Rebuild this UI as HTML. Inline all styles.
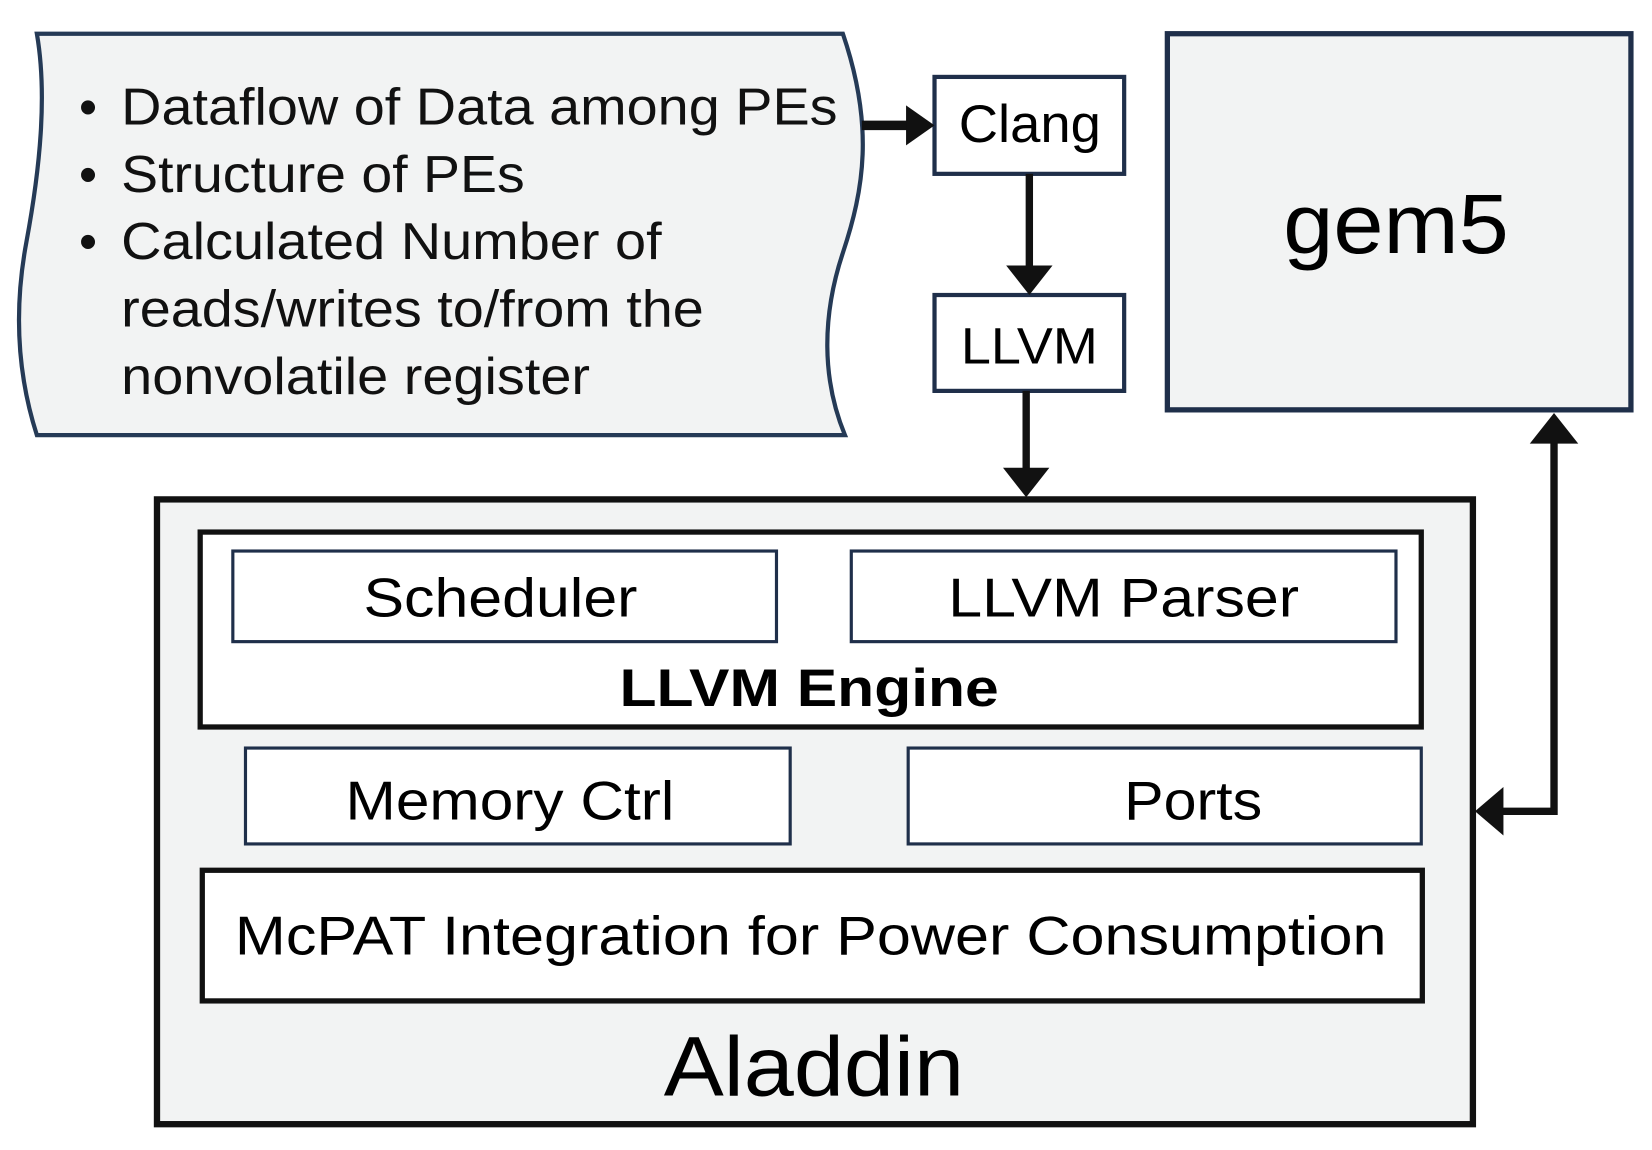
<!DOCTYPE html>
<html><head><style>html,body{margin:0;padding:0;background:#fff}svg{display:block}</style></head>
<body>
<svg width="1652" height="1150" viewBox="0 0 1568 1091.5" preserveAspectRatio="none" xmlns="http://www.w3.org/2000/svg" font-family="Liberation Sans, Arial, sans-serif">
<path d="M35,32 L800,32 C830,120 820,180 800,240 C780,300 780,360 802,413 L35,413 C18,360 12,300 25,230 C38,160 45,90 35,32 Z" fill="#f2f3f3" stroke="#253a56" stroke-width="4"/>
<g font-size="49" fill="#111" lengthAdjust="spacingAndGlyphs">
<text x="75" y="118">•</text><text x="115" y="118" textLength="680" lengthAdjust="spacingAndGlyphs">Dataflow of Data among PEs</text>
<text x="75" y="182">•</text><text x="115" y="182" textLength="383" lengthAdjust="spacingAndGlyphs">Structure of PEs</text>
<text x="75" y="246">•</text><text x="115" y="246" textLength="513" lengthAdjust="spacingAndGlyphs">Calculated Number of</text>
<text x="115" y="310" textLength="553" lengthAdjust="spacingAndGlyphs">reads/writes to/from the</text>
<text x="115" y="374" textLength="445" lengthAdjust="spacingAndGlyphs">nonvolatile register</text>
</g>
<rect x="887" y="73" width="180" height="92" fill="#fff" stroke="#1f2f4a" stroke-width="4"/>
<text x="910" y="135" font-size="50" textLength="135" lengthAdjust="spacingAndGlyphs">Clang</text>
<rect x="887" y="280" width="180" height="91" fill="#fff" stroke="#1f2f4a" stroke-width="4"/>
<text x="912" y="345" font-size="48" textLength="130" lengthAdjust="spacingAndGlyphs">LLVM</text>
<rect x="1108" y="32" width="440" height="357" fill="#f2f3f3" stroke="#1f2f4a" stroke-width="5"/>
<text x="1218" y="240" font-size="80" textLength="214" lengthAdjust="spacingAndGlyphs">gem5</text>
<g stroke="#111" stroke-width="7" fill="none">
<line x1="818" y1="119" x2="862" y2="119" stroke-width="9"/>
<line x1="977" y1="165" x2="977" y2="255"/>
<line x1="974" y1="371" x2="974" y2="448"/>
<polyline points="1475,420 1475,770 1425,770"/>
</g>
<g fill="#111">
<polygon points="860,100 887,119 860,138"/>
<polygon points="955,252 999,252 977,280"/>
<polygon points="952,444 996,444 974,472"/>
<polygon points="1452,421 1498,421 1475,392"/>
<polygon points="1427,747 1427,793 1400,770"/>
</g>
<rect x="149" y="474" width="1249" height="593" fill="#f2f3f3" stroke="#111" stroke-width="6"/>
<rect x="190" y="505" width="1159" height="185" fill="#fff" stroke="#111" stroke-width="5"/>
<rect x="221" y="523" width="516" height="86" fill="#fff" stroke="#1f2f4a" stroke-width="3"/>
<text x="345" y="585" font-size="52" textLength="260" lengthAdjust="spacingAndGlyphs">Scheduler</text>
<rect x="808" y="523" width="517" height="86" fill="#fff" stroke="#1f2f4a" stroke-width="3"/>
<text x="900" y="585" font-size="52" textLength="333" lengthAdjust="spacingAndGlyphs">LLVM Parser</text>
<text x="588" y="670" font-size="50" font-weight="bold" textLength="360" lengthAdjust="spacingAndGlyphs">LLVM Engine</text>
<rect x="233" y="710" width="517" height="91" fill="#fff" stroke="#1f2f4a" stroke-width="3"/>
<text x="328" y="778" font-size="52" textLength="312" lengthAdjust="spacingAndGlyphs">Memory Ctrl</text>
<rect x="862" y="710" width="487" height="91" fill="#fff" stroke="#1f2f4a" stroke-width="3"/>
<text x="1067" y="778" font-size="52" textLength="131" lengthAdjust="spacingAndGlyphs">Ports</text>
<rect x="192" y="826" width="1158" height="124" fill="#fff" stroke="#111" stroke-width="5"/>
<text x="223" y="906" font-size="52" textLength="1093" lengthAdjust="spacingAndGlyphs">McPAT Integration for Power Consumption</text>
<text x="630" y="1040" font-size="80" textLength="285" lengthAdjust="spacingAndGlyphs">Aladdin</text>
</svg>
</body></html>
